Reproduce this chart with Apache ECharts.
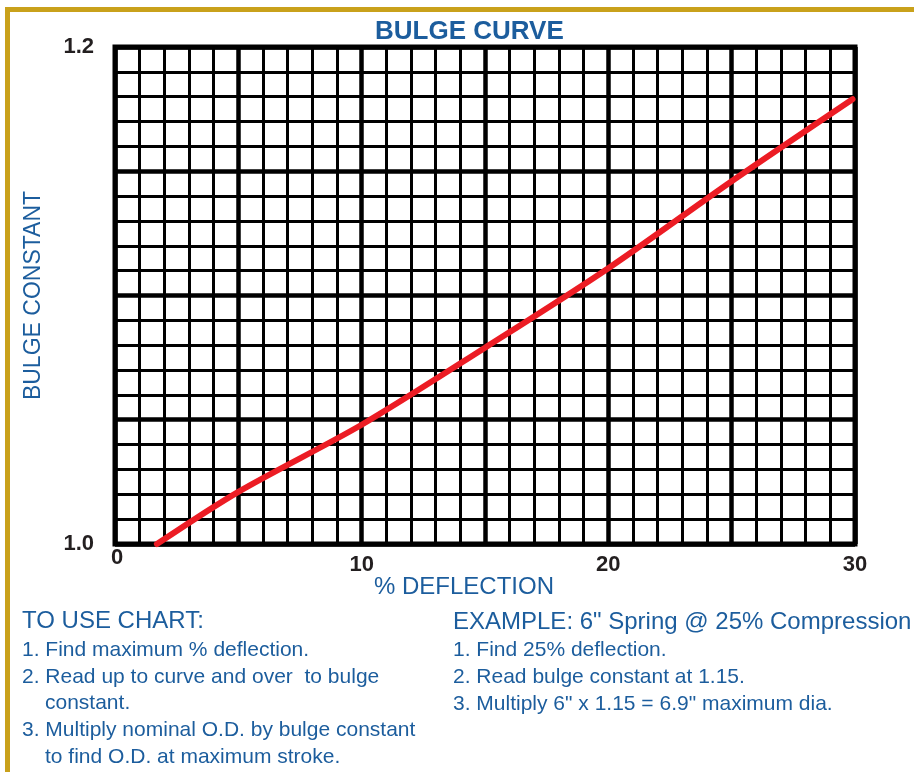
<!DOCTYPE html>
<html>
<head>
<meta charset="utf-8">
<script src="https://cdn.jsdelivr.net/npm/echarts@6/dist/echarts.min.js"></script>
<style>
  html, body { margin: 0; padding: 0; background: #fff; }
  #chart { width: 914px; height: 772px; }
</style>
</head>
<body>
<div id="chart"></div>
<script>
// data
const deflection = [1.7, 5, 10, 15, 20, 25, 29.9];
const bulge = [1.0, 1.021, 1.048, 1.079, 1.111, 1.146, 1.179];

const xLabels = [0, 10, 20, 30];
const yLabels = [1.0, 1.2];

const howTo = [
  "TO USE CHART:",
  "1. Find maximum % deflection.",
  "2. Read up to curve and over  to bulge",
  "constant.",
  "3. Multiply nominal O.D. by bulge constant",
  "to find O.D. at maximum stroke."
];
const example = [
  "EXAMPLE: 6\" Spring @ 25% Compression",
  "1. Find 25% deflection.",
  "2. Read bulge constant at 1.15.",
  "3. Multiply 6\" x 1.15 = 6.9\" maximum dia."
];

const BLUE = "#1c5d9d";
const GOLD = "#c9a11b";
const FONT = "Liberation Sans, Arial, sans-serif";

// text blocks below the chart
const note = (text, x, y, size) => ({
  type: "text", x: x, y: y,
  style: { text: text, fill: BLUE, font: size + "px " + FONT, textVerticalAlign: "middle" }
});
const howX = [22, 22, 22, 45, 22, 45];
const howY = [621, 650, 677, 703, 730, 757];
const exY = [622, 650, 677, 704];

const graphics = [
  { type: "rect", shape: { x: 5, y: 7, width: 909, height: 5 }, style: { fill: GOLD } },
  { type: "rect", shape: { x: 5, y: 7, width: 5, height: 765 }, style: { fill: GOLD } }
];
howTo.forEach((t, i) => graphics.push(note(t, howX[i], howY[i], i === 0 ? 24 : 21)));
example.forEach((t, i) => graphics.push(note(t, 453, exY[i], i === 0 ? 24 : 21)));

const chart = echarts.init(document.getElementById("chart"), null, { renderer: "canvas" });
chart.setOption({
  animation: false,
  title: {
    text: "BULGE CURVE",
    left: 370, top: 14,
    textStyle: { color: BLUE, fontSize: 26, fontWeight: "bold", fontFamily: FONT }
  },
  grid: {
    left: 115, right: 59, top: 47, bottom: 228,
    show: true, borderColor: "#000", borderWidth: 5, backgroundColor: "#fff"
  },
  xAxis: {
    type: "value", min: 0, max: 30, interval: 5,
    name: "% DEFLECTION", nameLocation: "middle", nameGap: 31, nameMoveOverlap: false,
    nameTextStyle: { color: BLUE, fontSize: 24, fontFamily: FONT, padding: [0, 42, 0, 0] },
    axisLine: { show: false }, axisTick: { show: false },
    axisLabel: {
      margin: 3,
      formatter: v => v === 0 ? "{z|0}" : (xLabels.indexOf(v) >= 0 ? "{n|" + v + "}" : ""),
      rich: {
        z: { fontSize: 22, fontWeight: "bold", color: "#231f20", fontFamily: FONT, lineHeight: 22, padding: [0, 0, 0, 4] },
        n: { fontSize: 22, fontWeight: "bold", color: "#231f20", fontFamily: FONT, lineHeight: 36 }
      }
    },
    splitLine: { show: true, lineStyle: { color: "#000", width: 4.5 } },
    minorTick: { show: false, splitNumber: 5 },
    minorSplitLine: { show: true, lineStyle: { color: "#000", width: 3 } }
  },
  yAxis: {
    type: "value", min: 1.0, max: 1.2, interval: 0.05,
    name: "BULGE CONSTANT", nameLocation: "middle", nameGap: 70, nameRotate: 90,
    nameTextStyle: { color: BLUE, fontSize: 23, fontFamily: FONT },
    axisLine: { show: false }, axisTick: { show: false },
    axisLabel: {
      margin: 21, color: "#231f20", fontSize: 22, fontWeight: "bold", fontFamily: FONT,
      formatter: v => yLabels.some(l => Math.abs(l - v) < 1e-6) ? v.toFixed(1) : ""
    },
    splitLine: { show: true, lineStyle: { color: "#000", width: 4.5 } },
    minorTick: { show: false, splitNumber: 5 },
    minorSplitLine: { show: true, lineStyle: { color: "#000", width: 3 } }
  },
  series: [{
    type: "line",
    data: deflection.map((x, i) => [x, bulge[i]]),
    smooth: 0.3, showSymbol: false, symbol: "none", clip: false,
    lineStyle: { color: "#ec1c24", width: 6, cap: "round" },
    z: 5
  }],
  graphic: graphics
});
</script>
</body>
</html>
